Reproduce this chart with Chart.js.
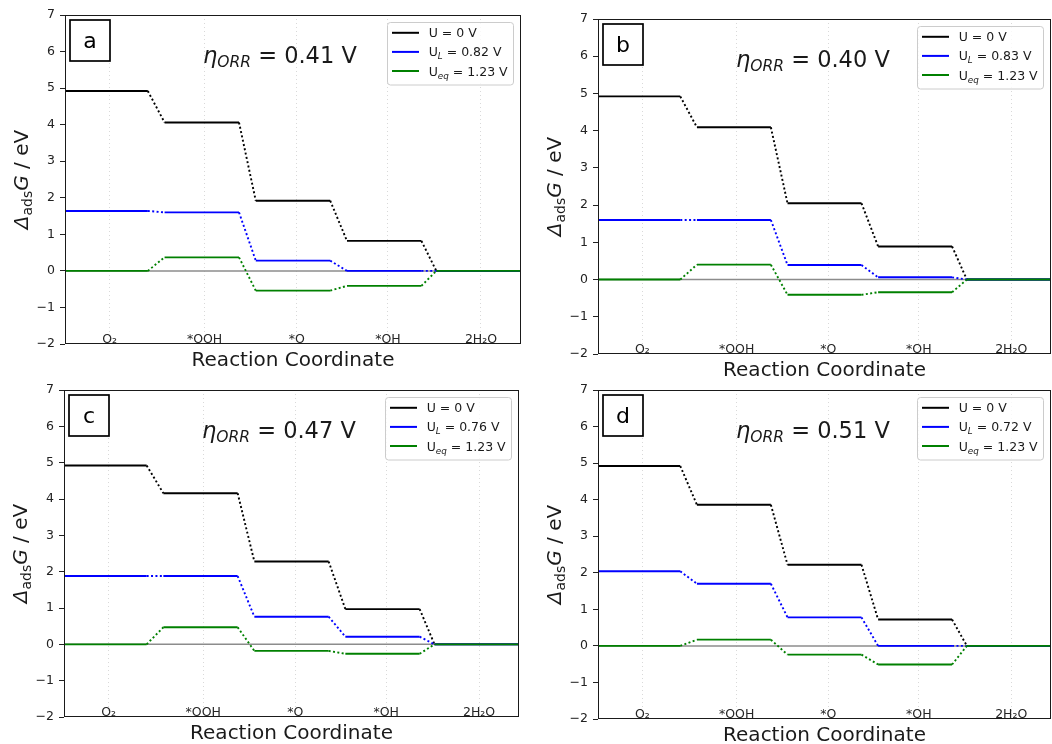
<!DOCTYPE html>
<html>
<head>
<meta charset="utf-8">
<title>ORR free energy diagrams</title>
<script src="https://cdn.jsdelivr.net/npm/chart.js@4.4.1/dist/chart.umd.min.js"></script>
<style>
  html, body { margin: 0; padding: 0; background: #fff; }
  #wrap { position: relative; width: 1052px; height: 744px; overflow: hidden; }
  #wrap canvas { position: absolute; }
</style>
</head>
<body>
<div id="wrap">
  <canvas id="ca" width="530" height="380" style="left:0;top:0;width:530px;height:380px"></canvas>
  <canvas id="cb" width="522" height="384" style="left:530px;top:0;width:522px;height:384px"></canvas>
  <canvas id="cc" width="530" height="368" style="left:0;top:376px;width:530px;height:368px"></canvas>
  <canvas id="cd" width="522" height="368" style="left:530px;top:376px;width:522px;height:368px"></canvas>
</div>
<script>
// Diagramas de energía libre ORR, 4 paneles (a-d)

// estados de reacción y sus posiciones en el eje x
const STATES = ['O₂', '*OOH', '*O', '*OH', '2H₂O'];
const STATE_POS = [0.48, 1.5, 2.49, 3.47, 4.47];
const STEP_START = [0, 1.07, 2.05, 3.03, 3.99];
const STEP_END = [0.89, 1.87, 2.85, 3.83, 4.9];
const X_MIN = 0, X_MAX = 4.9;
const Y_TICKS = [-2, -1, 0, 1, 2, 3, 4, 5, 6, 7];

const PANEL_LETTERS = ['a', 'b', 'c', 'd'];
const ETA_ORR = ['0.41', '0.40', '0.47', '0.51'];
const U_LIMIT = ['0.82', '0.83', '0.76', '0.72'];
const U_EQ = '1.23';

// ΔG (eV) por estado
const gU0_a  = [4.92, 4.06, 1.92, 0.82, 0];
const gUL_a  = [1.64, 1.60, 0.28, 0.00, 0];
const gUeq_a = [0.00, 0.37, -0.54, -0.41, 0];

const gU0_b  = [4.92, 4.09, 2.05, 0.89, 0];
const gUL_b  = [1.60, 1.60, 0.39, 0.06, 0];
const gUeq_b = [0.00, 0.40, -0.41, -0.34, 0];

const gU0_c  = [4.92, 4.16, 2.28, 0.97, 0];
const gUL_c  = [1.88, 1.88, 0.76, 0.21, 0];
const gUeq_c = [0.00, 0.47, -0.18, -0.26, 0];

const gU0_d  = [4.92, 3.86, 2.22, 0.72, 0];
const gUL_d  = [2.04, 1.70, 0.78, 0.00, 0];
const gUeq_d = [0.00, 0.17, -0.24, -0.51, 0];

const SERIES = [
  [gU0_a, gUL_a, gUeq_a],
  [gU0_b, gUL_b, gUeq_b],
  [gU0_c, gUL_c, gUeq_c],
  [gU0_d, gUL_d, gUeq_d]
];

// geometría de cada lienzo (coordenadas del canvas)
const GEOM = [
  { w: 530, h: 380, L: 65, T: 15, R: 521, B: 344 },
  { w: 522, h: 384, L: 68, T: 19, R: 521, B: 354 },
  { w: 530, h: 368, L: 64, T: 14, R: 519, B: 341 },
  { w: 522, h: 368, L: 68, T: 14, R: 521, B: 343 }
];

const FONT = '"DejaVu Sans", "Liberation Sans", sans-serif';
const COL_U0 = '#000000', COL_UL = '#0000ff', COL_EQ = '#008000';

// escalones: meseta sólida + conector punteado
function stepPoints(vals) {
  const pts = [];
  for (let i = 0; i < vals.length; i++) {
    pts.push({ x: STEP_START[i], y: vals[i] });
    pts.push({ x: STEP_END[i], y: vals[i] });
  }
  return pts;
}

function stepDataset(vals, color, order) {
  return {
    data: stepPoints(vals),
    borderColor: color,
    borderWidth: 1.9,
    borderCapStyle: 'butt',
    pointRadius: 0,
    tension: 0,
    order: order,
    segment: {
      borderDash: c => (c.p0DataIndex % 2 === 1 ? [2, 2.4] : undefined)
    }
  };
}

// texto con subíndices
function drawRich(ctx, parts, x, y, measureOnly) {
  let cx = x;
  for (const p of parts) {
    ctx.font = (p.it ? 'italic ' : '') + p.s + 'px ' + FONT;
    if (!measureOnly) ctx.fillText(p.t, cx, y + (p.dy || 0));
    cx += ctx.measureText(p.t).width;
  }
  return cx - x;
}

const decor = {
  id: 'decor',
  afterDraw(chart) {
    const idx = chart.options.plugins.decor.idx;
    const { ctx, chartArea: a, scales } = chart;
    const L = a.left, T = a.top, R = a.right, B = a.bottom;
    ctx.save();
    ctx.textAlign = 'left';
    ctx.textBaseline = 'alphabetic';

    // marco
    ctx.strokeStyle = '#1a1a1a';
    ctx.lineWidth = 1;
    ctx.strokeRect(L + 0.5, T + 0.5, R - L - 1, B - T - 1);

    // etiquetas de estados dentro del eje
    ctx.fillStyle = '#262626';
    ctx.font = '12.5px ' + FONT;
    ctx.textAlign = 'center';
    STATES.forEach((s, i) => {
      ctx.fillText(s, scales.x.getPixelForValue(STATE_POS[i]), B - 1.5);
    });

    // título eje x
    ctx.fillStyle = '#1a1a1a';
    ctx.font = '20px ' + FONT;
    ctx.fillText('Reaction Coordinate', (L + R) / 2, B + 21.7);

    // título eje y
    ctx.textAlign = 'left';
    const yParts = [
      { t: 'Δ', s: 20, it: true },
      { t: 'ads', s: 14, dy: 4 },
      { t: 'G', s: 20, it: true },
      { t: ' / eV', s: 20 }
    ];
    ctx.save();
    ctx.translate(L - 37, (T + B) / 2);
    ctx.rotate(-Math.PI / 2);
    const yw = drawRich(ctx, yParts, 0, 0, true);
    drawRich(ctx, yParts, -yw / 2, 0);
    ctx.restore();

    // caja con letra del panel
    const bx = L + 5, by = T + 5;
    ctx.fillStyle = '#ffffff';
    ctx.fillRect(bx, by, 40, 41);
    ctx.strokeStyle = '#000000';
    ctx.lineWidth = 1.7;
    ctx.strokeRect(bx, by, 40, 41);
    ctx.fillStyle = '#000000';
    ctx.font = '22px ' + FONT;
    ctx.textAlign = 'center';
    ctx.fillText(PANEL_LETTERS[idx], bx + 20, by + 28);

    // sobrepotencial
    ctx.textAlign = 'left';
    ctx.fillStyle = '#1a1a1a';
    drawRich(ctx, [
      { t: 'η', s: 22.5, it: true },
      { t: 'ORR', s: 15.5, it: true, dy: 4 },
      { t: ' = ' + ETA_ORR[idx] + ' V', s: 22.5 }
    ], L + 138, T + 47.5);

    // leyenda
    const lw = 126, lh = 62.5;
    const lx = R - 8 - lw, ly = T + 7;
    ctx.beginPath();
    ctx.roundRect(lx + 0.5, ly + 0.5, lw, lh, 3);
    ctx.fillStyle = 'rgba(255,255,255,0.8)';
    ctx.fill();
    ctx.strokeStyle = '#cccccc';
    ctx.lineWidth = 1;
    ctx.stroke();
    const rows = [
      { c: COL_U0, parts: [{ t: 'U = 0 V', s: 12.5 }] },
      { c: COL_UL, parts: [{ t: 'U', s: 12.5 }, { t: 'L', s: 8.8, it: true, dy: 3 }, { t: ' = ' + U_LIMIT[idx] + ' V', s: 12.5 }] },
      { c: COL_EQ, parts: [{ t: 'U', s: 12.5 }, { t: 'eq', s: 8.8, it: true, dy: 3 }, { t: ' = ' + U_EQ + ' V', s: 12.5 }] }
    ];
    rows.forEach((r, i) => {
      const ry = ly + 10.8 + i * 19.1;
      ctx.strokeStyle = r.c;
      ctx.lineWidth = 2;
      ctx.beginPath();
      ctx.moveTo(lx + 5, ry);
      ctx.lineTo(lx + 32, ry);
      ctx.stroke();
      ctx.fillStyle = '#1a1a1a';
      drawRich(ctx, r.parts, lx + 41.7, ry + 4.5);
    });

    ctx.restore();
  }
};

function makeChart(canvasId, idx) {
  const g = GEOM[idx];
  const [u0, ul, ueq] = SERIES[idx];
  return new Chart(document.getElementById(canvasId), {
    type: 'line',
    data: {
      datasets: [
        stepDataset(u0, COL_U0, 2),
        stepDataset(ul, COL_UL, 1),
        stepDataset(ueq, COL_EQ, 0),
        {
          data: [{ x: X_MIN, y: 0 }, { x: X_MAX, y: 0 }],
          borderColor: '#8c8c8c',
          borderWidth: 1.5,
          pointRadius: 0,
          order: 3
        }
      ]
    },
    options: {
      responsive: false,
      animation: false,
      events: [],
      layout: { padding: { top: g.T, right: g.w - g.R, left: 0, bottom: 0 } },
      plugins: {
        legend: { display: false },
        tooltip: { enabled: false },
        decor: { idx: idx }
      },
      scales: {
        x: {
          type: 'linear',
          min: X_MIN,
          max: X_MAX,
          afterBuildTicks: s => { s.ticks = STATE_POS.map(v => ({ value: v })); },
          afterFit: s => { s.height = g.h - g.B; },
          ticks: { display: false },
          grid: { color: '#d9d9d9', lineWidth: 1, drawTicks: false },
          border: { display: false, dash: [1, 3] }
        },
        y: {
          type: 'linear',
          min: -2,
          max: 7,
          afterBuildTicks: s => { s.ticks = Y_TICKS.map(v => ({ value: v })); },
          afterFit: s => { s.width = g.L; },
          ticks: {
            font: { family: FONT, size: 12.5 },
            color: '#222222',
            padding: 5,
            callback: v => String(v).replace('-', '−')
          },
          grid: { drawOnChartArea: false, tickLength: 5, color: '#222222' },
          border: { display: false }
        }
      }
    },
    plugins: [decor]
  });
}

makeChart('ca', 0);
makeChart('cb', 1);
makeChart('cc', 2);
makeChart('cd', 3);
</script>
</body>
</html>
